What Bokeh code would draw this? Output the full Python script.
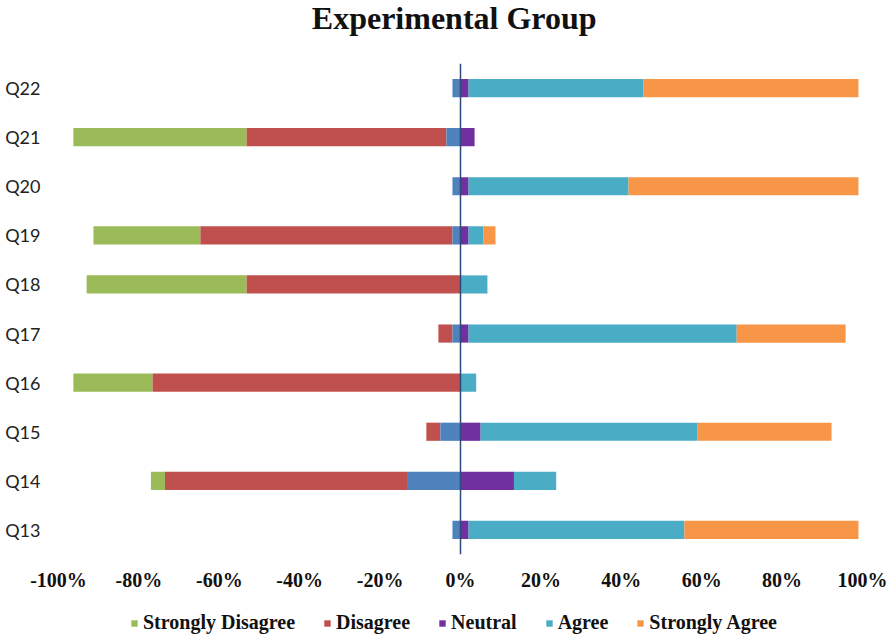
from bokeh.plotting import figure
from bokeh.layouts import column
from bokeh.models import ColumnDataSource, Span, Legend, LegendItem, FactorRange, FixedTicker, CustomJSTickFormatter, Range1d
from bokeh.core.properties import value
from bokeh.embed import file_html
from bokeh.resources import INLINE

questions = ["Q13", "Q14", "Q15", "Q16", "Q17", "Q18", "Q19", "Q20", "Q21", "Q22"]
strongly_disagree = [0, 3.5, 0, 19.7, 0, 39.8, 26.6, 0, 43.1, 0]
disagree = [0, 60.2, 3.5, 76.6, 3.5, 53.2, 62.7, 0, 49.7, 0]
neutral = [4, 26.6, 10, 0, 4, 0, 4, 4, 7, 4]
agree = [53.7, 10.5, 54, 3.9, 66.7, 6.7, 3.7, 39.8, 0, 43.5]
strongly_agree = [43.3, 0, 33.3, 0, 27.1, 0, 3, 57.2, 0, 53.5]
x_ticks = [-100, -80, -60, -40, -20, 0, 20, 40, 60, 80, 100]
title_text = "Experimental Group"
series_names = ["Strongly Disagree", "Disagree", "Neutral", "Agree", "Strongly Agree"]

C_SD = "#9BBB59"
C_D = "#C0504D"
C_NL = "#4F81BD"
C_N = "#7030A0"
C_A = "#4BACC6"
C_SA = "#F79646"
series_colors = [C_SD, C_D, C_N, C_A, C_SA]

# stacking (neutral split half left / half right of zero)
nl_r = [0.0] * len(questions)
nl_l = [-n / 2 for n in neutral]
d_r = nl_l
d_l = [a - b for a, b in zip(d_r, disagree)]
sd_r = d_l
sd_l = [a - b for a, b in zip(sd_r, strongly_disagree)]
n_l = [0.0] * len(questions)
n_r = [n / 2 for n in neutral]
a_l = n_r
a_r = [a + b for a, b in zip(a_l, agree)]
sa_l = a_r
sa_r = [a + b for a, b in zip(sa_l, strongly_agree)]

# ---- title figure ----
pt = figure(width=892, height=63, x_range=Range1d(0, 892), y_range=Range1d(0, 63),
            output_backend="svg", toolbar_location=None, title=None,
            x_axis_location=None, y_axis_location=None,
            min_border_left=0, min_border_right=0, min_border_top=0, min_border_bottom=0)
pt.grid.visible = False
pt.outline_line_color = None
pt.text(x=[439], y=[46], text=[title_text], text_align="center", text_baseline="middle",
        text_font=value("Liberation Serif"), text_font_style="bold", text_font_size="32px",
        text_color="#111111")

# ---- main figure ----
p = figure(width=892, height=533, y_range=FactorRange(*questions), x_range=Range1d(-100, 100),
           output_backend="svg", toolbar_location=None, title=None,
           min_border_left=58, min_border_right=30, min_border_top=0, min_border_bottom=42)

H = 0.37
def bar(left, right, color):
    src = ColumnDataSource(dict(y=questions, left=left, right=right))
    return p.hbar(y="y", left="left", right="right", height=H, source=src,
                  fill_color=color, line_color=None)

bar(sd_l, sd_r, C_SD)
bar(d_l, d_r, C_D)
bar(nl_l, nl_r, C_NL)
bar(n_l, n_r, C_N)
bar(a_l, a_r, C_A)
bar(sa_l, sa_r, C_SA)

p.add_layout(Span(location=0, dimension="height", line_color="#2E4A7A", line_width=1.5))

p.xgrid.visible = False
p.ygrid.visible = False
p.outline_line_color = None

p.xaxis.ticker = FixedTicker(ticks=x_ticks)
p.xaxis.formatter = CustomJSTickFormatter(code="return tick + '%';")
p.xaxis.axis_line_color = None
p.xaxis.major_tick_line_color = None
p.xaxis.minor_tick_line_color = None
p.xaxis.major_tick_out = 0
p.xaxis.major_label_standoff = 14
p.xaxis.major_label_text_font = "Liberation Serif"
p.xaxis.major_label_text_font_style = "bold"
p.xaxis.major_label_text_font_size = "20px"
p.xaxis.major_label_text_color = "#111111"

p.yaxis.axis_line_color = None
p.yaxis.major_tick_line_color = None
p.yaxis.minor_tick_line_color = None
p.yaxis.major_tick_out = 0
p.yaxis.major_label_standoff = 18
p.yaxis.major_label_text_font = "Lato"
p.yaxis.major_label_text_font_size = "18px"
p.yaxis.major_label_text_color = "#222222"

# ---- legend figure (proxy glyphs kept outside its visible range) ----
pl = figure(width=892, height=41, x_range=Range1d(0, 1), y_range=Range1d(0, 1),
            output_backend="svg", toolbar_location=None, title=None,
            x_axis_location=None, y_axis_location=None,
            min_border_left=0, min_border_right=0, min_border_top=0, min_border_bottom=0)
pl.grid.visible = False
pl.outline_line_color = None
items = []
for name, color in zip(series_names, series_colors):
    r = pl.hbar(y=[-5], left=[-5], right=[-4], height=0.1, fill_color=color, line_color=None)
    items.append(LegendItem(label=name, renderers=[r]))
legend = Legend(items=items, orientation="horizontal", location=(72, 3))
legend.label_text_font = "Liberation Serif"
legend.label_text_font_style = "bold"
legend.label_text_font_size = "20px"
legend.label_text_color = "#111111"
legend.glyph_width = 8
legend.glyph_height = 8
legend.label_standoff = 5
legend.spacing = 28
legend.padding = 4
legend.margin = 0
legend.border_line_color = None
legend.background_fill_alpha = 0
pl.add_layout(legend, "center")

layout = column(pt, p, pl, spacing=0)
open("out.html", "w").write(file_html(layout, INLINE))
